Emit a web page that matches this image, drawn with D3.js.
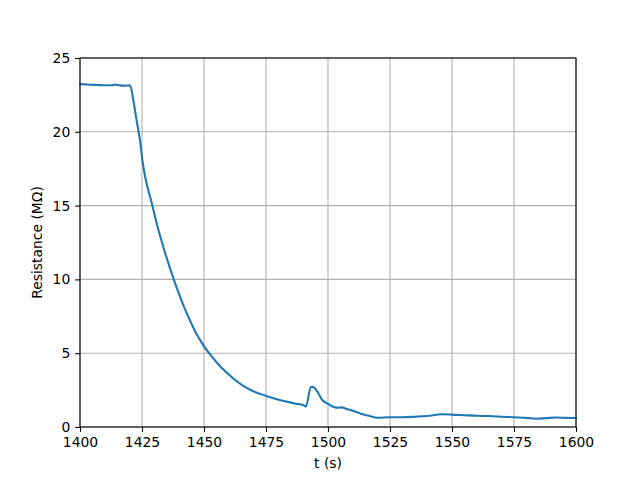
<!DOCTYPE html>
<html>
<head>
<meta charset="utf-8">
<script src="https://cdn.jsdelivr.net/npm/d3@7"></script>
<style>
  body { margin: 0; background: #fff; }
  svg { display: block; font-family: "DejaVu Sans", sans-serif; }
</style>
</head>
<body>
<div id="chart"></div>
<script>
// time (s) and resistance (MOhm)
const times = [1400, 1403, 1407, 1410, 1413, 1414, 1416, 1418, 1420.2, 1421.5, 1422.8, 1424.2, 1425.3, 1426.6, 1428.9, 1430.9, 1433.6, 1436.3, 1438, 1440.3, 1442.3, 1444.4, 1447, 1450.1, 1453, 1456.5, 1460, 1463.2, 1466.5, 1469.9, 1475.3, 1479, 1483.3, 1487, 1490, 1491.1, 1493.1, 1494, 1495.5, 1497.7, 1500.1, 1502.8, 1504, 1505.5, 1507.5, 1510, 1513, 1516, 1519.6, 1525, 1530, 1535, 1540, 1545.8, 1550, 1555, 1560, 1565, 1570, 1575, 1580, 1584, 1588, 1592, 1596, 1600];
const resistance = [23.24, 23.2, 23.17, 23.15, 23.15, 23.2, 23.15, 23.12, 23.15, 22.15, 20.8, 19.4, 17.9, 16.7, 15.2, 13.8, 12.2, 10.75, 9.9, 8.85, 8.0, 7.2, 6.3, 5.45, 4.8, 4.12, 3.56, 3.1, 2.72, 2.42, 2.1, 1.9, 1.72, 1.58, 1.49, 1.38, 2.73, 2.72, 2.45, 1.83, 1.56, 1.33, 1.3, 1.33, 1.22, 1.1, 0.92, 0.78, 0.63, 0.66, 0.66, 0.7, 0.75, 0.86, 0.84, 0.8, 0.76, 0.74, 0.7, 0.66, 0.62, 0.56, 0.6, 0.64, 0.62, 0.61];

const xTicks = [1400, 1425, 1450, 1475, 1500, 1525, 1550, 1575, 1600];
const yTicks = [0, 5, 10, 15, 20, 25];

const data = times.map((t, i) => ({ t: t, r: resistance[i] }));

const margin = { top: 58, right: 64, bottom: 53, left: 80 };
const width = 640 - margin.left - margin.right;
const height = 480 - margin.top - margin.bottom;

const svg = d3.select("#chart")
    .append("svg")
    .attr("width", 640)
    .attr("height", 480)
    .append("g")
    .attr("transform", `translate(${margin.left},${margin.top})`);

const x = d3.scaleLinear().domain([1400, 1600]).range([0, width]);
const y = d3.scaleLinear().domain([0, 25]).range([height, 0]);

// grid
svg.append("g")
    .selectAll("line")
    .data(xTicks)
    .enter()
    .append("line")
    .attr("x1", d => x(d)).attr("x2", d => x(d))
    .attr("y1", 0).attr("y2", height)
    .attr("stroke", "#b0b0b0")
    .attr("stroke-width", 1.1);

svg.append("g")
    .selectAll("line")
    .data(yTicks)
    .enter()
    .append("line")
    .attr("x1", 0).attr("x2", width)
    .attr("y1", d => y(d)).attr("y2", d => y(d))
    .attr("stroke", "#b0b0b0")
    .attr("stroke-width", 1.1);

// the curve
const line = d3.line()
    .curve(d3.curveMonotoneX)
    .x(d => x(d.t))
    .y(d => y(d.r));

svg.append("path")
    .datum(data)
    .attr("fill", "none")
    .attr("stroke", "#1f77b4")
    .attr("stroke-width", 2.08)
    .attr("stroke-linejoin", "round")
    .attr("stroke-linecap", "square")
    .attr("d", line);

// axes
const xAxis = svg.append("g")
    .attr("transform", `translate(0,${height})`)
    .call(d3.axisBottom(x).tickValues(xTicks).tickFormat(d3.format("d")).tickSize(4.86).tickPadding(4.86));

const yAxis = svg.append("g")
    .call(d3.axisLeft(y).tickValues(yTicks).tickSize(4.86).tickPadding(4.86));

[xAxis, yAxis].forEach(a => {
    a.select(".domain").remove();
    a.selectAll("line").attr("stroke", "#000").attr("stroke-width", 1.1);
    a.selectAll("text").attr("font-size", "13.9px").attr("fill", "#000")
        .attr("font-family", "DejaVu Sans, sans-serif");
});

// frame
svg.append("rect")
    .attr("width", width)
    .attr("height", height)
    .attr("fill", "none")
    .attr("stroke", "#000")
    .attr("stroke-width", 1.1);

// labels
svg.append("text")
    .attr("x", width / 2)
    .attr("y", height + 41)
    .attr("text-anchor", "middle")
    .attr("font-size", "13.9px")
    .text("t (s)");

svg.append("text")
    .attr("transform", `translate(${-38},${height / 2}) rotate(-90)`)
    .attr("text-anchor", "middle")
    .attr("font-size", "13.9px")
    .text("Resistance (MΩ)");
</script>
</body>
</html>
